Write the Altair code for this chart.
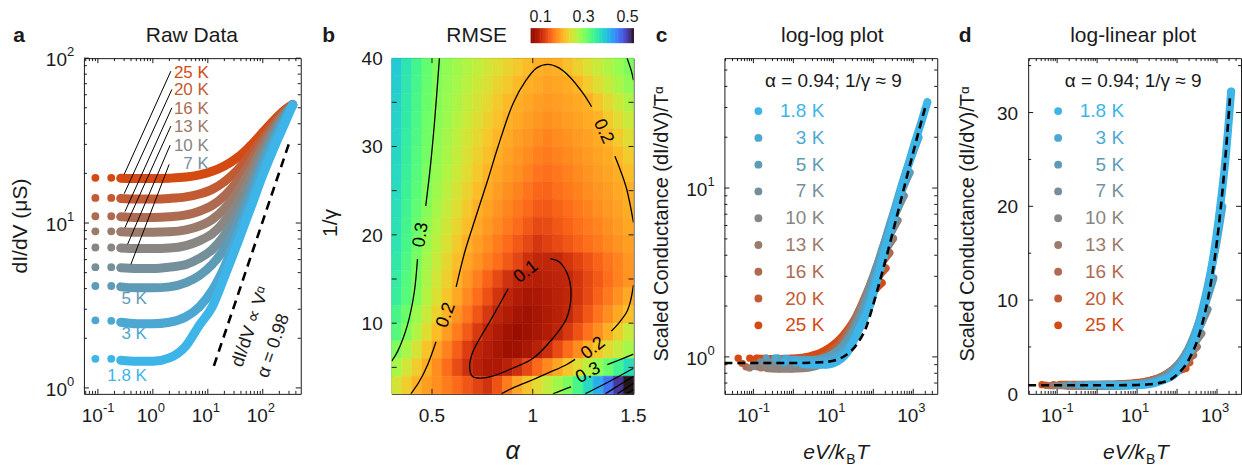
import math
import pandas as pd
import altair as alt

FONT = "Liberation Sans"
INK = "#1a1a1a"

# ---------------- data: temperatures ----------------
temps = ["1.8 K", "3 K", "5 K", "7 K", "10 K", "13 K", "16 K", "20 K", "25 K"]
temp_k = [1.8, 3, 5, 7, 10, 13, 16, 20, 25]
temp_colors = ["#3DB5E8", "#4CA8D2", "#5E9BB6", "#76909B", "#898683",
               "#9B7B6C", "#AE6B51", "#C25B33", "#D54A12"]

# panel a: bias (mV) and differential conductance (uS) per temperature
bias_mV = [0.09, 0.175, 0.26, 0.5, 1, 2, 4, 7, 12, 20, 35, 60, 100, 170, 250, 350]
g_1p8K = [1.5, 1.5, 1.47, 1.45, 1.45, 1.52, 1.8, 2.4, 3.1, 4.7, 7.6, 12.3, 19.5, 30, 40, 52]
g_3K = [2.57, 2.55, 2.5, 2.45, 2.45, 2.5, 2.7, 3.1, 3.9, 5.4, 8.6, 13.6, 21.5, 32.5, 42, 52]
g_5K = [4.15, 4.15, 4.1, 4.05, 4.05, 4.1, 4.35, 4.8, 5.6, 7.0, 10.0, 15.2, 23.5, 34.5, 43.5, 52]
g_7K = [5.4, 5.4, 5.35, 5.3, 5.3, 5.4, 5.6, 6.1, 6.9, 8.4, 11.4, 16.8, 25, 35.5, 44, 52]
g_10K = [7.1, 7.1, 7.05, 7.0, 7.0, 7.05, 7.3, 7.8, 8.6, 10.2, 13.3, 18.8, 27, 37, 45, 52]
g_13K = [8.9, 8.9, 8.85, 8.8, 8.8, 8.85, 9.1, 9.6, 10.5, 12.2, 15.5, 21, 29, 38.5, 46, 52]
g_16K = [11.0, 11.0, 10.9, 10.8, 10.8, 10.9, 11.2, 11.8, 12.8, 14.6, 18.0, 23.5, 31, 40, 47, 52]
g_20K = [14.2, 14.2, 14.1, 14.0, 14.0, 14.1, 14.4, 15.0, 16.0, 17.8, 21.0, 26.0, 33, 41.5, 47.5, 52]
g_25K = [18.8, 18.8, 18.7, 18.6, 18.6, 18.7, 19.0, 19.6, 20.6, 22.2, 25.0, 29.5, 35.5, 43, 48.5, 52.5]
g_all = [g_1p8K, g_3K, g_5K, g_7K, g_10K, g_13K, g_16K, g_20K, g_25K]

# power-law guide in panel a
guide_V = [12.9, 297]
guide_G = [1.36, 30.1]

# scaling used in panels c, d
KB_MEV = 0.08617
ALPHA_FIT = 0.94
NORM = 0.928

# dashed scaling-function curve (panels c, d)
fit_x = [0.0188, 0.1, 1, 5, 10, 20, 40, 70, 100, 200, 400, 700, 1000, 1500, 2100]
fit_y = [0.92, 0.92, 0.92, 0.93, 0.95, 1.02, 1.2, 1.55, 2.05, 3.7, 7.0, 11.8, 16.3, 23.5, 31.5]

# panel b: RMSE map, alpha columns 0.30..1.50 (step 0.05), 1/gamma rows 40 -> 2 (step 2)
alpha_lo = [round(0.30 + 0.05 * i, 3) for i in range(24)]
rmse_g39 = [0.396,0.369,0.344,0.320,0.303,0.292,0.281,0.271,0.261,0.251,0.240,0.230,0.220,0.209,0.200,0.197,0.200,0.213,0.228,0.243,0.257,0.272,0.287,0.302]
rmse_g37 = [0.394,0.367,0.342,0.318,0.301,0.289,0.278,0.266,0.254,0.243,0.231,0.220,0.208,0.199,0.195,0.190,0.193,0.197,0.205,0.222,0.240,0.257,0.274,0.291]
rmse_g35 = [0.391,0.364,0.339,0.315,0.299,0.286,0.273,0.260,0.247,0.234,0.221,0.208,0.198,0.193,0.188,0.183,0.187,0.191,0.195,0.200,0.217,0.235,0.254,0.272]
rmse_g33 = [0.389,0.362,0.337,0.313,0.297,0.283,0.269,0.255,0.241,0.228,0.214,0.200,0.194,0.188,0.182,0.176,0.181,0.186,0.191,0.196,0.202,0.220,0.237,0.255]
rmse_g31 = [0.387,0.360,0.335,0.311,0.294,0.279,0.264,0.249,0.234,0.219,0.204,0.195,0.188,0.181,0.174,0.168,0.174,0.179,0.185,0.190,0.196,0.204,0.221,0.239]
rmse_g29 = [0.384,0.357,0.332,0.308,0.291,0.275,0.260,0.244,0.228,0.213,0.198,0.190,0.182,0.174,0.166,0.162,0.168,0.173,0.179,0.185,0.191,0.197,0.207,0.224]
rmse_g27 = [0.381,0.354,0.329,0.304,0.288,0.271,0.254,0.237,0.220,0.203,0.193,0.184,0.176,0.167,0.158,0.154,0.160,0.166,0.173,0.179,0.186,0.192,0.198,0.211]
rmse_g25 = [0.379,0.351,0.326,0.301,0.283,0.265,0.247,0.229,0.211,0.196,0.187,0.177,0.168,0.158,0.149,0.147,0.154,0.161,0.167,0.174,0.181,0.187,0.194,0.201]
rmse_g23 = [0.376,0.348,0.322,0.297,0.278,0.258,0.239,0.220,0.201,0.191,0.180,0.170,0.160,0.150,0.140,0.139,0.146,0.153,0.161,0.168,0.176,0.183,0.190,0.198]
rmse_g21 = [0.373,0.344,0.317,0.291,0.271,0.251,0.231,0.211,0.195,0.184,0.173,0.162,0.151,0.139,0.128,0.130,0.138,0.146,0.154,0.162,0.169,0.177,0.185,0.193]
rmse_g19 = [0.370,0.341,0.313,0.285,0.264,0.243,0.221,0.200,0.188,0.176,0.163,0.151,0.139,0.127,0.114,0.121,0.129,0.137,0.146,0.154,0.162,0.171,0.179,0.188]
rmse_g17 = [0.365,0.335,0.307,0.278,0.256,0.233,0.211,0.193,0.180,0.166,0.153,0.139,0.126,0.108,0.100,0.099,0.101,0.112,0.123,0.135,0.146,0.158,0.169,0.181]
rmse_g15 = [0.360,0.331,0.304,0.274,0.250,0.226,0.202,0.183,0.165,0.146,0.128,0.109,0.098,0.093,0.091,0.094,0.097,0.100,0.113,0.127,0.140,0.153,0.167,0.180]
rmse_g13 = [0.356,0.328,0.300,0.268,0.243,0.218,0.194,0.173,0.153,0.133,0.112,0.097,0.089,0.081,0.084,0.089,0.094,0.099,0.112,0.128,0.145,0.162,0.178,0.195]
rmse_g11 = [0.340,0.314,0.284,0.255,0.229,0.203,0.180,0.159,0.137,0.115,0.097,0.088,0.079,0.074,0.080,0.087,0.093,0.100,0.119,0.138,0.157,0.175,0.194,0.213]
rmse_g09 = [0.330,0.302,0.270,0.239,0.211,0.186,0.163,0.140,0.116,0.097,0.087,0.077,0.067,0.073,0.081,0.089,0.098,0.115,0.135,0.156,0.177,0.198,0.226,0.256]
rmse_g07 = [0.302,0.276,0.247,0.217,0.190,0.167,0.143,0.119,0.098,0.090,0.081,0.072,0.073,0.083,0.093,0.107,0.130,0.152,0.175,0.198,0.218,0.238,0.258,0.278]
rmse_g05 = [0.277,0.250,0.224,0.198,0.175,0.152,0.130,0.107,0.094,0.085,0.085,0.094,0.107,0.128,0.150,0.172,0.193,0.217,0.240,0.264,0.288,0.316,0.347,0.378]
rmse_g03 = [0.248,0.225,0.202,0.188,0.176,0.163,0.150,0.137,0.124,0.111,0.135,0.163,0.192,0.215,0.237,0.259,0.280,0.304,0.342,0.381,0.421,0.463,0.504,0.610]
rmse_rows = [(39, rmse_g39), (37, rmse_g37), (35, rmse_g35), (33, rmse_g33), (31, rmse_g31),
             (29, rmse_g29), (27, rmse_g27), (25, rmse_g25), (23, rmse_g23), (21, rmse_g21),
             (19, rmse_g19), (17, rmse_g17), (15, rmse_g15), (13, rmse_g13), (11, rmse_g11),
             (9, rmse_g09), (7, rmse_g07), (5, rmse_g05), (3, rmse_g03)]

# contour paths (alpha, 1/gamma)
c01 = [(1.087,17.3),(1.133,16.9),(1.175,15.4),(1.19,13.1),(1.167,10.5),(1.1,8.3),(1.0,6.0),(0.9,4.9),
       (0.8,4.0),(0.74,3.78),(0.70,4.0),(0.687,5.0),(0.70,6.6),(0.728,7.9),(0.795,10.5),(0.878,13.9)]
c02_a = [(0.395,2.0),(0.437,3.4),(0.478,5.28),(0.52,7.9)]
c02_b = [(0.62,14.1),(0.662,18.0),(0.703,21.0),(0.778,26.3),(0.828,30.0),(0.903,34.9),(0.967,37.5),
         (1.02,38.9),(1.075,39.3),(1.13,38.9),(1.183,37.9),(1.25,36.0),(1.292,34.5)]
c02_c = [(1.408,28.9),(1.44,27.0),(1.467,25.1),(1.5,21.4)]
c02_d = [(1.5,14.3),(1.485,12.5),(1.467,11.3),(1.43,10.1),(1.39,9.1)]
c02_e = [(1.21,5.9),(1.167,5.3),(1.08,4.4),(1.0,3.6),(0.9,2.66),(0.845,2.0)]
c03_a = [(0.537,40),(0.512,32.6),(0.492,27.75),(0.469,23.26)]
c03_b = [(0.428,17.27),(0.412,13.5),(0.378,9.78),(0.329,6.78),(0.3,5.7)]
c03_c = [(1.1,2.0),(1.15,2.45),(1.19,2.8)]
c03_d = [(1.37,5.3),(1.42,5.75),(1.5,6.5)]
c03_e = [(1.468,40),(1.49,38.5),(1.5,37.5)]
c04 = [(1.26,2.0),(1.38,3.4),(1.5,4.9)]
c05 = [(1.36,2.0),(1.43,3.0),(1.5,4.0)]
c06 = [(1.42,2.0),(1.5,3.2)]
c07 = [(1.465,2.0),(1.5,2.5)]
contours = [c01, c02_a, c02_b, c02_c, c02_d, c02_e, c03_a, c03_b, c03_c, c03_d, c03_e, c04, c05, c06, c07]
contour_labels = [("0.3", 0.445, 20.0, 279), ("0.2", 0.57, 10.9, 290), ("0.2", 1.35, 31.7, 65),
                  ("0.1", 0.967, 15.8, 322), ("0.2", 1.30, 7.15, 322), ("0.3", 1.275, 4.35, 332)]

# tick labels
b_x_ticks = [0.5, 1, 1.5]
b_x_text = ["0.5", "1", "1.5"]
b_y_ticks = [10, 20, 30, 40]
d_y_ticks = [0, 10, 20, 30]

# ---------------- geometry ----------------
H = 336
WA, WB, WC, WD = 217, 242, 213, 213
XA = [0.0557, 491.0]
YA = [0.92, 100.0]
XB = [0.3, 1.5]
YB = [2.0, 40.0]
XC = [10 ** -1.725, 10 ** (-1.725 + WC / 40.0)]
YC = [0.604, 58.8]
YD = [0.0, 35.8]
CB = [0.054, 0.53]

ONE = pd.DataFrame({"k": [0]})


def lin_inv_x(px, d, W):
    return d[0] + px / W * (d[1] - d[0])


def ex(field, scale):
    return alt.X(f"{field}:Q", scale=scale, axis=None)


def ey(field, scale):
    return alt.Y(f"{field}:Q", scale=scale, axis=None)


def ptext(txt, x, y, size=19, color=INK, align="center", baseline="middle",
          angle=0, weight="normal", style="normal"):
    kw = dict(text=txt, fontSize=size, font=FONT, color=color, align=align,
              baseline=baseline, fontWeight=weight, fontStyle=style)
    if angle:
        kw["angle"] = angle
    return alt.Chart(ONE).mark_text(**kw).encode(x=alt.value(x), y=alt.value(y))


def prule(x1, y1, x2, y2, w=1):
    return alt.Chart(ONE).mark_rule(color="black", strokeWidth=w).encode(
        x=alt.value(x1), y=alt.value(y1), x2=alt.value(x2), y2=alt.value(y2))


def log_ticks(d):
    maj, mnr = [], []
    lo, hi = math.floor(math.log10(d[0])), math.ceil(math.log10(d[1]))
    for e in range(lo, hi + 1):
        for m in range(1, 10):
            v = m * 10.0 ** e
            if d[0] * 1.001 < v < d[1] * 0.999:
                (maj if m == 1 else mnr).append(v)
    return maj, mnr


def xticks(vals, xs, L):
    if not vals:
        return []
    df = pd.DataFrame({"t": vals})
    b = alt.Chart(df).mark_rule(color=INK, strokeWidth=1).encode(
        x=ex("t", xs), y=alt.value(H), y2=alt.value(H - L))
    t = alt.Chart(df).mark_rule(color=INK, strokeWidth=1).encode(
        x=ex("t", xs), y=alt.value(0), y2=alt.value(L))
    return [b, t]


def yticks(vals, ys, W, L):
    if not vals:
        return []
    df = pd.DataFrame({"t": vals})
    l = alt.Chart(df).mark_rule(color=INK, strokeWidth=1).encode(
        y=ey("t", ys), x=alt.value(0), x2=alt.value(L))
    r = alt.Chart(df).mark_rule(color=INK, strokeWidth=1).encode(
        y=ey("t", ys), x=alt.value(W), x2=alt.value(W - L))
    return [l, r]


def lin_xlabels(vals, texts, xs):
    df = pd.DataFrame({"t": vals, "s": texts})
    return [alt.Chart(df).mark_text(font=FONT, fontSize=19, color=INK, align="center",
                                    baseline="middle").encode(x=ex("t", xs), y=alt.value(H + 22), text="s:N")]


def lin_ylabels(vals, ys, xoff):
    df = pd.DataFrame({"t": vals, "s": [str(v) for v in vals]})
    return [alt.Chart(df).mark_text(font=FONT, fontSize=19, color=INK, align="right",
                                    baseline="middle", dy=1).encode(x=alt.value(xoff), y=ey("t", ys), text="s:N")]


def log_xlabels(vals, exps, xs):
    df = pd.DataFrame({"t": vals, "e": exps})
    base = alt.Chart(df).mark_text(text="10", font=FONT, fontSize=19, color=INK, align="right",
                                   baseline="middle", dx=5).encode(x=ex("t", xs), y=alt.value(H + 22))
    sup = alt.Chart(df).mark_text(font=FONT, fontSize=13, color=INK, align="left", baseline="middle",
                                  dx=5, dy=-8).encode(x=ex("t", xs), y=alt.value(H + 22), text="e:N")
    return [base, sup]


def log_ylabels(vals, exps, ys):
    df = pd.DataFrame({"t": vals, "e": exps})
    base = alt.Chart(df).mark_text(text="10", font=FONT, fontSize=19, color=INK, align="right",
                                   baseline="middle", dy=2).encode(x=alt.value(-17), y=ey("t", ys))
    sup = alt.Chart(df).mark_text(font=FONT, fontSize=13, color=INK, align="left", baseline="middle",
                                  dy=-6).encode(x=alt.value(-17), y=ey("t", ys), text="e:N")
    return [base, sup]


rows = []
for lab, T, g in zip(temps, temp_k, g_all):
    for v, gv in zip(bias_mV, g):
        rows.append(dict(T=lab, V=v, G=gv, x=v / (KB_MEV * T), y=gv / (NORM * T ** ALPHA_FIT)))
curves = pd.DataFrame(rows)


def curve_layers(xf, yf, xs, ys, sw, size):
    out = []
    for lab, col in reversed(list(zip(temps, temp_colors))):
        sub = curves[curves["T"] == lab]
        band = sub[sub["V"] >= 0.25]
        out.append(alt.Chart(band).mark_line(color=col, strokeWidth=sw, strokeCap="round",
                                             strokeJoin="round", interpolate="monotone").encode(
            x=ex(xf, xs), y=ey(yf, ys)))
        out.append(alt.Chart(sub).mark_circle(color=col, size=size, opacity=1).encode(
            x=ex(xf, xs), y=ey(yf, ys)))
    return out


# ---------------- panel a ----------------
xs_a = alt.Scale(type="log", domain=XA, nice=False)
ys_a = alt.Scale(type="log", domain=YA, nice=False)
la = [ptext("·", -83, -57, size=8, color="white", align="left", baseline="top")]
la += curve_layers("V", "G", xs_a, ys_a, 9, 62)
guide = pd.DataFrame({"V": guide_V, "G": guide_G})
la.append(alt.Chart(guide).mark_line(color="black", strokeWidth=2.6, strokeDash=[9, 6]).encode(
    x=ex("V", xs_a), y=ey("G", ys_a)))
leader_px = [(87, 13, 40.3, 116.3), (88, 31.3, 40.3, 135.7), (88, 49.7, 41, 153.7),
             (87, 68, 41, 169.7), (86.3, 87, 43.7, 186.3), (85.3, 106.3, 47, 206.3)]
for (x1, y1, x2, y2) in leader_px:
    la.append(prule(x1, y1, x2, y2, 1))
upper_lab_y = [15, 32.3, 50.7, 69, 88, 106.3]
for lab, yy in zip(["25 K", "20 K", "16 K", "13 K", "10 K", "7 K"], upper_lab_y):
    la.append(ptext(lab, 125, yy, size=17, color=temp_colors[temps.index(lab)], align="right"))
for lab, yy in zip(["5 K", "3 K", "1.8 K"], [241, 276, 318]):
    la.append(ptext(lab, 63, yy, size=17, color=temp_colors[temps.index(lab)], align="right"))
la.append(ptext("dI/dV ∝ Vᵅ", 167, 269, size=18, angle=289))
la.append(ptext("α = 0.98", 190, 288, size=18, angle=289))
mj, mn = log_ticks(XA)
la += xticks(mj, xs_a, 5) + xticks(mn, xs_a, 3)
mj, mn = log_ticks(YA)
la += yticks(mj + [100.0], ys_a, WA, 5) + yticks(mn, ys_a, WA, 3)
la += log_xlabels([0.1, 1, 10, 100], ["-1", "0", "1", "2"], xs_a)
la += log_ylabels([1, 10, 100], ["0", "1", "2"], ys_a)
la.append(ptext("Raw Data", 108, -22, size=21))
la.append(ptext("a", -65, -22, size=21, weight="bold"))
la.append(ptext("dI/dV (μS)", -63, 168, size=21, angle=270))
pa = alt.layer(*la).properties(width=WA, height=H)

# ---------------- panel b ----------------
xs_b = alt.Scale(type="linear", domain=XB, nice=False, zero=False)
ys_b = alt.Scale(type="linear", domain=YB, nice=False, zero=False)
cscale = alt.Scale(scheme="turbo", reverse=True, domain=CB, clamp=True)
hrows = []
for gc, vals in rmse_rows:
    for a0, v in zip(alpha_lo, vals):
        hrows.append(dict(a0=a0, a1=round(a0 + 0.05, 3), g0=gc - 1, g1=gc + 1, rmse=v))
heat = pd.DataFrame(hrows)
lb = [alt.Chart(heat).mark_rect(strokeWidth=0.5).encode(
    x=ex("a0", xs_b), x2="a1",
    y=ey("g0", ys_b), y2="g1",
    color=alt.Color("rmse:Q", scale=cscale, legend=None),
    stroke=alt.Stroke("rmse:Q", scale=cscale, legend=None))]
crow = []
for cid, path in enumerate(contours):
    for i, (a, g) in enumerate(path):
        crow.append(dict(cid=cid, idx=i, a=a, g=g))
cdf = pd.DataFrame(crow)
lb.append(alt.Chart(cdf).mark_line(color="black", strokeWidth=1.3, interpolate="catmull-rom", clip=True).encode(
    x=ex("a", xs_b), y=ey("g", ys_b), detail="cid:N", order="idx:Q"))
for (t, a, g, ang) in contour_labels:
    lb.append(alt.Chart(pd.DataFrame({"a": [a], "g": [g]})).mark_text(
        text=t, font=FONT, fontSize=18, color="black", angle=ang).encode(x=ex("a", xs_b), y=ey("g", ys_b)))
lb += xticks([0.5, 1.0], xs_b, 5)
lb += yticks([5, 10, 15, 20, 25, 30, 35], ys_b, WB, 5)
lb += lin_xlabels(b_x_ticks, b_x_text, xs_b)
lb += lin_ylabels(b_y_ticks, ys_b, -9)
nb = 64
cbar = pd.DataFrame({
    "v": [CB[0] + (CB[1] - CB[0]) * (i + 0.5) / nb for i in range(nb)],
    "x0": [lin_inv_x(139 + 103.0 * i / nb, XB, WB) for i in range(nb)],
    "x1": [lin_inv_x(139 + 103.0 * (i + 1) / nb + 0.5, XB, WB) for i in range(nb)],
})
lb.append(alt.Chart(cbar).mark_rect().encode(
    x=ex("x0", xs_b), x2="x1", y=alt.value(-30), y2=alt.value(-15),
    color=alt.Color("v:Q", scale=cscale, legend=None)))
for t, xx in zip(["0.1", "0.3", "0.5"], [149, 192, 236]):
    lb.append(ptext(t, xx, -41, size=16))
lb.append(ptext("RMSE", 85, -22, size=21))
lb.append(ptext("b", -63, -22, size=21, weight="bold"))
lb.append(ptext("1/γ", -61, 165, size=21, angle=270))
lb.append(ptext("α", 121, 393, size=25, style="italic"))
pb = alt.layer(*lb).properties(width=WB, height=H)


# ---------------- panels c, d ----------------
def scaled_panel(W, ys, letter, title, title_x, ylog, legend_mx, legend_tx, note_x, xt_shift, ytitle_x):
    xs = alt.Scale(type="log", domain=XC, nice=False)
    L = []
    L += curve_layers("x", "y", xs, ys, 8, 55)
    fit = pd.DataFrame({"x": fit_x, "y": fit_y})
    L.append(alt.Chart(fit).mark_line(color="black", strokeWidth=2.6, strokeDash=[8, 5],
                                      interpolate="monotone", clip=True).encode(x=ex("x", xs), y=ey("y", ys)))
    for i, (lab, col) in enumerate(zip(temps, temp_colors)):
        yy = 53 + 26.8 * i
        L.append(alt.Chart(ONE).mark_circle(color=col, size=62, opacity=1).encode(
            x=alt.value(legend_mx), y=alt.value(yy)))
        L.append(ptext(lab, legend_tx, yy, size=19, color=col, align="right"))
    L.append(ptext("α = 0.94; 1/γ ≈ 9", note_x, 23, size=19))
    mj, mn = log_ticks(XC)
    L += xticks(mj, xs, 5) + xticks(mn, xs, 3)
    L += log_xlabels([0.1, 10, 1000], ["-1", "1", "3"], xs)
    if ylog:
        mj, mn = log_ticks(YC)
        L += yticks(mj, ys, W, 5) + yticks(mn, ys, W, 3)
        L += log_ylabels([1, 10], ["0", "1"], ys)
    else:
        L += yticks([10, 20, 30], ys, W, 5)
        L += yticks([5, 15, 25, 35], ys, W, 3)
        L += lin_ylabels(d_y_ticks, ys, -10)
    L.append(ptext("eV/k", 121 + xt_shift, 395, size=21, align="right", style="italic"))
    L.append(ptext("B", 122 + xt_shift, 402, size=14, align="left"))
    L.append(ptext("T", 132 + xt_shift, 395, size=21, align="left", style="italic"))
    L.append(ptext(title, title_x, -22, size=21))
    L.append(ptext(letter, -63, -22, size=21, weight="bold"))
    L.append(ptext("Scaled Conductance (dI/dV)/Tᵅ", ytitle_x, 166, size=20, angle=270))
    return alt.layer(*L).properties(width=W, height=H)


ys_c = alt.Scale(type="log", domain=YC, nice=False)
ys_d = alt.Scale(type="linear", domain=YD, nice=False, zero=False)
pc = scaled_panel(WC, ys_c, "c", "log-log plot", 108, True, 34, 100, 109, 0, -62)
pdd = scaled_panel(WD, ys_d, "d", "log-linear plot", 105, False, 30, 96, 105, -4, -60)

chart = alt.hconcat(pa, pb, pc, pdd, spacing=91, bounds="flush").properties(
    padding=0, background="white"
).configure_view(stroke=INK, strokeWidth=1)

chart.save("out.html", embed_options={"renderer": "svg", "actions": False})
